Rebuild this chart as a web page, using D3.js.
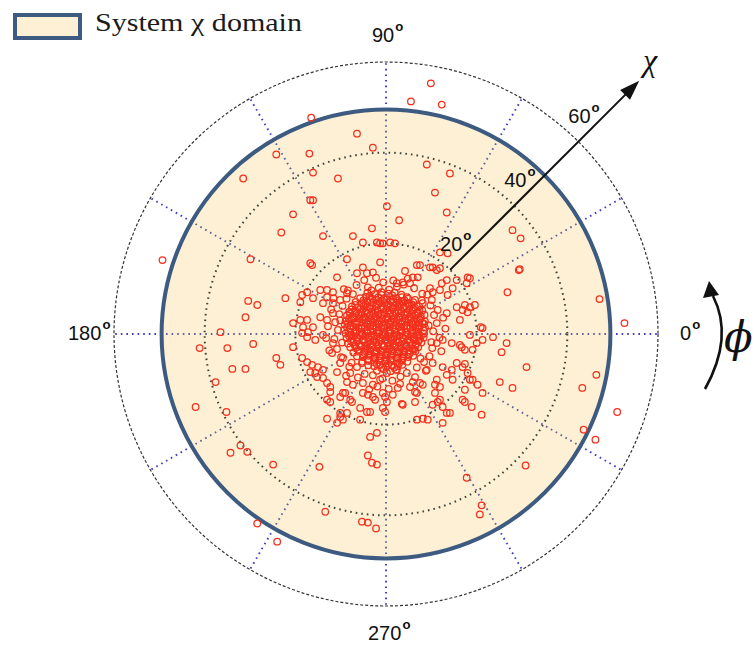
<!DOCTYPE html>
<html>
<head>
<meta charset="utf-8">
<script src="https://cdn.jsdelivr.net/npm/d3@7/dist/d3.min.js"></script>
<style>
  html, body { margin: 0; padding: 0; background: #ffffff; }
  svg { display: block; }
</style>
</head>
<body>
<svg id="chart" width="756" height="645"></svg>
<script>
// ---- data (degrees) ----
const chiTicks = [20, 40, 60];          // dotted/dashed rings
const phiSpokes = [0, 30, 60, 90, 120, 150, 180, 210, 240, 270, 300, 330];
const phiLabels = [0, 90, 180, 270];
const chiMax = 60;
const domainChi = 49.5;                 // edge of the system χ domain
const chiArrowEnd = 79;                 // length of the χ axis arrow

// scattered observations away from the core: [χ·cosφ, χ·sinφ]
const outerPoints = [
  [9.9,55.3],[5.5,51.3],[12.3,50.6],[9.0,37.4],[14.1,35.4],[10.8,31.2],[0.2,28.2],[13.4,26.8],[2.9,25.1],
  [27.9,22.9],[29.7,21.1],[13.6,17.8],[11.9,18.0],[29.5,14.3],[4.2,13.9],[6.8,15.2],[9.7,14.7],[11.9,14.5],
  [0.9,20.2],[-0.7,20.0],[18.0,12.5],
  [-16.5,47.7],[-6.4,44.2],[-2.9,41.1],[-16.9,39.8],[-24.2,39.6],[-16.1,35.6],[-10.6,34.3],[-31.5,34.3],
  [-16.7,29.5],[-16.1,29.5],[-20.5,26.4],[-23.1,22.4],[-13.9,21.6],[-7.3,21.6],[-3.1,23.3],[-5.1,20.2],
  [-2.0,20.2],[-49.3,16.3],[-29.9,16.5],[-16.7,15.6],[-16.3,15.2],[-8.6,16.5],[-10.8,12.5],[-6.4,13.4],
  [-5.1,14.7],[-4.2,13.4],[-2.9,13.6],
  [-1.3,20.0],[2.0,20.0],[-1.3,15.8],[7.5,15.2],[10.3,14.7],[13.4,11.9],[12.3,11.2],[2.4,11.2],[3.7,11.4],
  [5.3,11.2],[5.9,12.5],[7.0,12.5],[9.7,10.1],[10.3,9.2],[11.9,9.7],[13.6,8.6],[-8.6,9.0],[-10.1,7.5],
  [-11.7,6.8],[-13.0,8.1],[-14.5,9.7],[-16.1,7.9],[-17.4,9.2],[-4.0,10.3],[4.6,8.1],[6.4,7.5],[8.1,6.8],
  [10.1,7.5],[11.4,5.3],[13.4,4.6],[15.6,5.9],[16.9,5.3],[16.3,3.1],[-14.5,3.7],[-13.0,3.1],[-11.7,4.6],
  [-17.4,3.1],[-16.1,1.5],
  [29.3,14.1],[26.8,9.2],[47.1,7.7],[18.5,12.3],[17.8,11.2],[17.4,6.4],[18.5,5.9],[19.6,6.4],[18.0,4.8],
  [20.9,1.5],[21.3,1.3],[18.5,-0.2],[26.6,-2.0],[25.5,-4.0],[16.7,-2.9],[19.1,-3.5],[31.0,-7.3],[17.4,-6.6],
  [18.0,-8.6],[18.5,-10.1],[20.2,-11.2],[25.1,-10.6],[27.9,-11.9],[43.3,-11.9],[46.4,-9.0],[17.4,-12.3],
  [17.4,-15.0],[18.9,-16.1],[52.6,2.4],
  [-30.4,7.3],[-28.4,6.4],[-22.2,7.9],[-31.0,3.7],[-36.5,0.4],[-41.1,-3.1],[-35.0,-3.1],[-29.3,-2.2],
  [-24.2,-5.3],[-23.3,-6.8],[-33.9,-7.7],[-31.0,-7.7],[-37.6,-10.6],[-42.0,-16.1],[-18.5,8.6],[-18.9,7.0],
  [-20.5,2.4],[-18.9,3.1],[-18.3,1.5],[-18.5,0.2],[-17.2,0.4],[-20.5,-2.9],[-17.4,-6.2],
  [-35.2,-17.2],[-34.3,-26.2],[-32.1,-24.6],[-30.6,-26.0],[-24.9,-28.8],[-14.7,-29.3],[-13.4,-39.2],
  [-5.3,-41.4],[-4.0,-41.6],[-2.2,-42.9],[-28.4,-41.8],[-24.0,-45.8],[-13.0,-10.8],[-12.3,-11.7],
  [-8.6,-10.6],[-7.3,-11.2],[-5.1,-10.8],[-2.9,-11.2],[-2.9,-13.9],[-5.1,-13.0],[-7.5,-15.0],[-9.0,-13.0],
  [-13.0,-14.5],[-12.3,-15.0],[-10.1,-18.3],[-9.5,-18.9],[-8.6,-17.4],[-10.8,-19.6],[-13.0,-18.7],
  [-5.7,-18.9],[-4.2,-17.2],[-3.5,-22.7],[-2.0,-21.8],[-4.0,-26.8],[-3.1,-28.4],[-2.0,-28.8],
  [51.0,-17.2],[43.6,-21.1],[46.2,-23.3],[30.8,-29.0],[17.8,-31.7],[21.1,-37.8],[20.7,-39.8],[21.1,-17.8],
  [13.4,-17.4],[14.1,-17.4],[12.5,-19.6],[11.4,-15.0],[10.3,-15.6],[11.9,-14.5],[6.8,-18.9],[8.1,-18.7],
  [9.2,-18.9],[3.5,-15.4],[1.5,-13.4],[-0.2,-13.9],[-0.2,-17.2],[2.6,-11.9],[6.4,-12.8],[8.1,-11.2],
  [10.8,-11.2],[5.9,-10.6],
  [-17.4,-0.7],[-15.6,-1.3],[-13.9,-0.2],[-11.7,-2.0],[-11.9,-4.2],[-9.5,-5.3],[-10.1,-6.4],[-16.3,-6.8],
  [-15.0,-7.3],[-15.6,-8.6],[-13.9,-7.9],[-10.8,-8.4],[-7.9,-8.6],[-6.4,-7.3],[-5.3,-6.4],[-12.3,-12.8],
  [-9.5,-13.0],[-7.9,-14.5],[-10.1,-17.4],[-4.0,-13.4],[-2.4,-14.5],[-0.7,-13.0],[0.2,-15.0],[3.7,-15.6],
  [-1.3,-10.1],[0.2,-8.6],[2.4,-7.9],[4.6,-8.6],[6.4,-9.5],[7.5,-10.8],[5.3,-11.7],[9.0,-7.9],[10.3,-6.4],
  [12.5,-7.3],[14.5,-7.9],[15.6,-6.4],[16.9,-7.3],[13.4,-9.0],[14.7,-10.1],[11.2,-10.1],[11.9,-11.7],
  [10.8,-13.0],[12.5,-16.1],[6.8,-13.0],[6.4,-15.0],[16.9,-14.5],[17.4,-3.5],[16.3,-2.4],[14.5,-2.0],
  [12.5,-1.3],[11.2,-2.0],
  [-13.0,9.7],[-11.7,9.2],[-13.9,6.8],[-18.5,-5.3],[-16.7,-8.4],[-15.2,-9.5],[-13.9,-9.7],[-10.1,-13.9],
  [-5.7,-16.3],[-3.5,-17.2],[-0.7,-16.3],[19.1,-10.1],[21.3,-13.0],[20.0,-2.0],[21.3,-1.3],[23.6,-0.7],
  [14.7,10.1],[15.6,11.9],[11.2,14.1]
];

// halo of observations hugging the core: [χ·cosφ, χ·sinφ]
const haloPoints = [
  [-6.5,10.8],[-4.8,11.9],[-2.2,12.4],[1.6,11.8],[3.9,10.9],[6.2,10.1],[-8.4,9.6],[8.0,8.9],[-0.6,11.4],[4.8,12.2],
  [9.8,6.3],[10.6,4.2],[11.2,2.4],[10.4,0.6],[11.8,-0.8],[10.2,-3.1],[9.6,-4.9],[12.6,3.6],[13.1,1.2],[12.2,-3.8],
  [9.4,1.9],[10.0,-1.8],
  [8.4,-6.2],[6.8,-7.4],[3.2,-9.4],[1.4,-10.3],[-0.8,-9.8],[-2.9,-9.1],[-4.7,-8.8],[-6.2,-9.6],[-8.1,-7.2],
  [-1.9,-11.6],[0.6,-12.1],[3.1,-11.0],[-3.7,-12.2],
  [-9.9,-5.1],[-10.8,-3.3],[-11.4,-1.1],[-10.6,0.9],[-11.2,2.6],[-10.3,4.4],[-9.6,6.2],[-12.8,1.7],[-13.2,-0.9],
  [-12.5,-3.6],[-9.7,-1.9],[-10.1,3.0],[-12.1,5.4],[-11.6,7.9],[-8.7,7.8],
  [7.9,7.4],[9.1,8.7],[-7.3,8.8],[-9.3,9.9],[8.8,-8.1],[-8.8,-9.2],[7.6,-5.4],[-7.6,-6.3]
];

// dense cluster of observations near χ = 0: [χ·cosφ, χ·sinφ]
const corePoints = [
  [-1.6,10.2],[0.7,9.8],[-3.2,9.6],[2.4,10.4],
  [-4.1,9.1],[-2.5,8.8],[-1.0,9.2],[0.5,8.9],[1.9,9.1],[3.4,8.7],
  [-5.7,7.9],[-4.4,8.2],[-3.0,7.8],[-1.7,8.1],[-0.4,7.7],[0.9,8.2],[2.2,7.9],[3.5,8.1],[4.9,7.8],
  [-6.7,7.1],[-5.3,6.8],[-4.1,7.2],[-2.8,6.9],[-1.5,7.1],[-0.3,6.8],[1.0,7.2],[2.3,6.9],[3.4,7.1],[4.7,6.8],[6.0,7.0],
  [-7.5,6.1],[-6.2,5.9],[-4.9,6.2],[-3.7,5.8],[-2.3,6.1],[-1.1,5.9],[0.3,6.2],[1.5,5.8],[2.7,6.1],[3.9,5.9],[5.2,6.2],[6.4,5.8],[7.3,6.1],
  [-8.1,4.9],[-6.8,5.1],[-5.6,4.8],[-4.3,5.2],[-3.0,4.9],[-1.8,5.1],[-0.5,4.8],[0.8,5.2],[2.0,4.9],[3.3,5.1],[4.5,4.8],[5.8,5.1],[7.0,4.9],[8.0,5.2],
  [-8.6,4.1],[-7.3,3.9],[-6.1,4.2],[-4.8,3.8],[-3.6,4.1],[-2.3,3.9],[-1.1,4.2],[0.2,3.8],[1.5,4.1],[2.8,3.9],[4.0,4.2],[5.3,3.8],[6.5,4.1],[7.7,3.9],[8.5,4.2],
  [-8.9,2.9],[-7.7,3.1],[-6.4,2.8],[-5.2,3.2],[-3.9,2.9],[-2.7,3.1],[-1.4,2.8],[-0.1,3.2],[1.1,2.9],[2.4,3.1],[3.6,2.8],[4.9,3.2],[6.1,2.9],[7.4,3.1],[8.6,2.8],
  [-9.1,2.1],[-7.8,1.9],[-6.6,2.2],[-5.3,1.8],[-4.1,2.1],[-2.8,1.9],[-1.6,2.2],[-0.3,1.8],[0.9,2.1],[2.2,1.9],[3.4,2.2],[4.7,1.8],[5.9,2.1],[7.2,1.9],[8.4,2.2],
  [-9.2,0.9],[-7.9,1.1],[-6.7,0.8],[-5.4,1.2],[-4.2,0.9],[-2.9,1.1],[-1.7,0.8],[-0.4,1.2],[0.8,0.9],[2.1,1.1],[3.3,0.8],[4.6,1.2],[5.8,0.9],[7.1,1.1],[8.3,0.8],
  [-8.9,0.1],[-7.7,-0.2],[-6.5,0.2],[-5.2,-0.1],[-4.0,0.1],[-2.7,-0.2],[-1.5,0.2],[-0.2,-0.1],[1.0,0.1],[2.3,-0.2],[3.5,0.2],[4.8,-0.1],[6.0,0.1],[7.3,-0.2],[8.4,0.1],
  [-8.7,-0.9],[-7.5,-1.1],[-6.3,-0.8],[-5.0,-1.2],[-3.8,-0.9],[-2.5,-1.1],[-1.3,-0.8],[0.0,-1.2],[1.2,-0.9],[2.5,-1.1],[3.7,-0.8],[5.0,-1.2],[6.2,-0.9],[7.4,-1.1],[8.3,-0.8],
  [-8.4,-2.1],[-7.2,-1.9],[-5.9,-2.2],[-4.7,-1.8],[-3.4,-2.1],[-2.2,-1.9],[-0.9,-2.2],[0.3,-1.8],[1.6,-2.1],[2.8,-1.9],[4.1,-2.2],[5.3,-1.8],[6.6,-2.1],[7.8,-1.9],
  [-7.9,-2.9],[-6.7,-3.1],[-5.4,-2.8],[-4.2,-3.2],[-2.9,-2.9],[-1.7,-3.1],[-0.4,-2.8],[0.8,-3.2],[2.1,-2.9],[3.3,-3.1],[4.6,-2.8],[5.8,-3.2],[7.1,-2.9],
  [-7.2,-4.1],[-6.0,-3.9],[-4.7,-4.2],[-3.5,-3.8],[-2.2,-4.1],[-1.0,-3.9],[0.3,-4.2],[1.5,-3.8],[2.8,-4.1],[4.0,-3.9],[5.3,-4.2],[6.5,-3.8],
  [-6.4,-4.9],[-5.1,-5.1],[-3.9,-4.8],[-2.6,-5.2],[-1.4,-4.9],[-0.1,-5.1],[1.1,-4.8],[2.4,-5.2],[3.6,-4.9],[4.9,-5.1],[6.0,-4.8],
  [-5.2,-6.1],[-4.0,-5.9],[-2.7,-6.2],[-1.5,-5.8],[-0.2,-6.1],[1.0,-5.9],[2.3,-6.2],[3.5,-5.8],[4.7,-6.1],
  [-3.9,-6.9],[-2.6,-7.1],[-1.3,-6.8],[0.0,-7.2],[1.3,-6.9],[2.6,-7.1],[3.6,-6.8],
  [-2.0,-8.1],[-0.5,-7.8],[1.0,-8.2],[2.2,-7.9],
  [-2.2,7.5],[0.1,7.6],[2.6,7.4],
  [-4.5,6.5],[-2.0,6.6],[0.6,6.4],[3.0,6.5],[5.0,6.6],
  [-5.8,5.5],[-3.4,5.6],[-0.9,5.4],[1.5,5.5],[4.0,5.6],[6.1,5.4],
  [-6.6,4.5],[-4.1,4.6],[-1.6,4.4],[0.9,4.5],[3.3,4.6],[5.8,4.4],
  [-7.0,3.5],[-4.5,3.6],[-2.0,3.4],[0.5,3.5],[3.0,3.6],[5.5,3.4],[7.6,3.5],
  [-6.9,2.5],[-4.4,2.6],[-1.9,2.4],[0.6,2.5],[3.1,2.6],[5.6,2.4],
  [-7.2,1.5],[-4.7,1.6],[-2.2,1.4],[0.3,1.5],[2.8,1.6],[5.3,1.4],[7.4,1.5],
  [-6.8,0.5],[-4.3,0.6],[-1.8,0.4],[0.7,0.5],[3.2,0.6],[5.7,0.4],
  [-7.0,-0.5],[-4.5,-0.4],[-2.0,-0.6],[0.5,-0.5],[3.0,-0.4],[5.5,-0.6],[7.7,-0.5],
  [-6.4,-1.5],[-3.9,-1.6],[-1.4,-1.4],[1.1,-1.5],[3.6,-1.6],[6.1,-1.4],
  [-5.5,-2.5],[-3.0,-2.4],[-0.5,-2.6],[2.0,-2.5],[4.5,-2.4],[6.5,-2.6],
  [-4.6,-3.5],[-2.1,-3.6],[0.4,-3.4],[2.9,-3.5],[5.2,-3.6],
  [-3.6,-4.5],[-1.1,-4.6],[1.4,-4.4],[3.9,-4.5],
  [-2.4,-5.5],[0.1,-5.6],[2.6,-5.4],
  [-1.0,8.6],[1.4,8.5],[-3.6,8.4],
  [-5.0,7.4],[-3.4,7.5],[-0.9,7.4],[1.6,7.6],[4.1,7.4],
  [-6.8,6.4],[-4.2,6.0],[-1.7,6.5],[0.9,6.1],[3.3,6.4],[5.7,6.5],
  [-7.6,5.4],[-5.0,5.5],[-2.4,5.3],[0.1,5.5],[2.6,5.3],[5.1,5.5],[7.4,5.3],
  [-7.9,4.5],[-5.4,4.3],[-2.9,4.5],[-0.4,4.3],[2.1,4.5],[4.6,4.3],[7.1,4.5],
  [-8.2,3.4],[-5.8,3.5],[-3.3,3.5],[-0.8,3.4],[1.8,3.5],[4.3,3.5],[6.8,3.4],
  [-8.4,2.4],[-5.9,2.5],[-3.4,2.6],[-0.9,2.4],[1.6,2.5],[4.1,2.6],[6.6,2.4],[8.0,2.5],
  [-8.6,1.5],[-6.0,1.4],[-3.5,1.6],[-1.0,1.4],[1.6,1.5],[4.0,1.6],[6.5,1.4],[8.6,1.4],
  [-8.3,0.5],[-5.8,0.4],[-3.3,0.6],[-0.8,0.4],[1.9,0.5],[4.3,0.4],[6.7,0.6],
  [-8.1,-0.5],[-5.7,-0.4],[-3.2,-0.6],[-0.7,-0.4],[1.8,-0.6],[4.3,-0.5],[6.8,-0.4],
  [-7.7,-1.6],[-5.2,-1.4],[-2.7,-1.6],[-0.2,-1.4],[2.3,-1.6],[4.8,-1.4],[7.2,-1.5],
  [-6.9,-2.5],[-4.4,-2.6],[-1.9,-2.4],[0.8,-2.5],[3.2,-2.6],[5.7,-2.4],
  [-6.2,-3.5],[-3.7,-3.4],[-1.2,-3.6],[1.3,-3.4],[3.8,-3.6],[6.2,-3.4],
  [-5.0,-4.5],[-2.5,-4.4],[0.0,-4.6],[2.5,-4.4],[5.0,-4.5],
  [-3.8,-5.6],[-1.3,-5.4],[1.2,-5.6],[3.7,-5.4],
  [-2.0,-6.6],[0.5,-6.5],[2.9,-6.4],
  [-1.0,-7.5],[1.8,-7.4]
];

// ---- layout ----
const cx = 386, cy = 334;
const r = d3.scaleLinear().domain([0, chiMax]).range([0, 272]);
const px = d3.scaleLinear().domain([-chiMax, chiMax]).range([cx - r(chiMax), cx + r(chiMax)]);
const py = d3.scaleLinear().domain([-chiMax, chiMax]).range([cy + r(chiMax), cy - r(chiMax)]);
const toRad = d => d * Math.PI / 180;

const svg = d3.select("#chart");
const plot = svg.append("g");

// system χ domain fill
plot.append("circle")
  .attr("cx", cx).attr("cy", cy).attr("r", r(domainChi))
  .attr("fill", "#fdf0d4");

// angular spokes (grey-blue inside the domain, blue outside)
phiSpokes.forEach(phi => {
  const c = Math.cos(toRad(phi)), s = Math.sin(toRad(phi));
  plot.append("line")
    .attr("x1", cx).attr("y1", cy)
    .attr("x2", cx + r(domainChi) * c).attr("y2", cy - r(domainChi) * s)
    .attr("stroke", "#606096").attr("stroke-width", 1.9)
    .attr("stroke-dasharray", "1.6,4");
  plot.append("line")
    .attr("x1", cx + r(domainChi) * c).attr("y1", cy - r(domainChi) * s)
    .attr("x2", cx + r(chiMax) * c).attr("y2", cy - r(chiMax) * s)
    .attr("stroke", "#3c3ccc").attr("stroke-width", 1.9)
    .attr("stroke-dasharray", "1.6,4");
});

// χ rings
chiTicks.forEach(t => {
  const outer = t === chiMax;
  plot.append("circle")
    .attr("cx", cx).attr("cy", cy).attr("r", r(t))
    .attr("fill", "none")
    .attr("stroke", outer ? "#333" : "#3f443a")
    .attr("stroke-width", outer ? 1.2 : 2)
    .attr("stroke-dasharray", outer ? "3,2" : "1.6,4");
});

// domain boundary
plot.append("circle")
  .attr("cx", cx).attr("cy", cy).attr("r", r(domainChi))
  .attr("fill", "none").attr("stroke", "#3d5a80").attr("stroke-width", 4);

// observations
plot.append("g").selectAll("circle")
  .data(outerPoints.concat(haloPoints, corePoints))
  .join("circle")
  .attr("cx", d => px(d[0]))
  .attr("cy", d => py(d[1]))
  .attr("r", 3.3)
  .attr("fill", "none")
  .attr("stroke", "#f3301d")
  .attr("stroke-width", 1.25);

// angle labels with degree marks
const labelFont = "'Liberation Sans', Arial, sans-serif";
function degLabel(x, y, str, size) {
  const t = svg.append("text")
    .attr("x", x).attr("y", y)
    .attr("font-family", labelFont).attr("font-size", size).attr("fill", "#111");
  t.append("tspan").text(str);
  t.append("tspan").attr("font-size", size * 0.66).attr("font-weight", "bold")
    .attr("dx", 1).attr("dy", -size * 0.55).text("o");
}
const phiLabelPos = {0: [680, 340], 90: [372, 42], 180: [68, 340], 270: [368, 640]};
phiLabels.forEach(p => degLabel(phiLabelPos[p][0], phiLabelPos[p][1], String(p), 20));

// χ axis arrow along 45°
const a45 = toRad(45);
const ax = d => cx + r(d) * Math.cos(a45), ay = d => cy - r(d) * Math.sin(a45);
svg.append("line")
  .attr("x1", ax(chiTicks[0])).attr("y1", ay(chiTicks[0]))
  .attr("x2", ax(chiArrowEnd - 4)).attr("y2", ay(chiArrowEnd - 4))
  .attr("stroke", "#111").attr("stroke-width", 2);
{
  const tipX = ax(chiArrowEnd), tipY = ay(chiArrowEnd);
  const back = 20, half = 7;
  const bx = tipX - back * Math.cos(a45), by = tipY + back * Math.sin(a45);
  const nx = Math.sin(a45), ny = Math.cos(a45);
  svg.append("polygon")
    .attr("points", [[tipX, tipY], [bx + half * nx, by + half * ny], [bx - half * nx, by - half * ny]].map(p => p.join(",")).join(" "))
    .attr("fill", "#111");
}
// χ tick labels along the arrow
chiTicks.forEach(t => degLabel(ax(t) - 10, ay(t) - 19, String(t), 20));

svg.append("text")
  .attr("x", 643).attr("y", 71)
  .attr("font-family", "'Liberation Serif', 'Times New Roman', serif")
  .attr("font-style", "italic").attr("font-size", 32).attr("fill", "#111")
  .text("χ");

// φ direction arrow
svg.append("path")
  .attr("d", "M705,389 Q734,337 713,296")
  .attr("fill", "none").attr("stroke", "#111").attr("stroke-width", 2.6);
svg.append("polygon")
  .attr("points", "709,281 703,298 719,295")
  .attr("fill", "#111");
svg.append("text")
  .attr("x", 724).attr("y", 352)
  .attr("font-family", "'DejaVu Serif', 'Liberation Serif', serif")
  .attr("font-style", "italic").attr("font-size", 42).attr("fill", "#111")
  .text("ϕ");

// legend
svg.append("rect")
  .attr("x", 15).attr("y", 15).attr("width", 65).attr("height", 23)
  .attr("fill", "#fdf0d4").attr("stroke", "#3d5a80").attr("stroke-width", 4);
svg.append("text")
  .attr("x", 95).attr("y", 31)
  .attr("font-family", "'Liberation Serif', 'Times New Roman', serif")
  .attr("font-size", 26).attr("fill", "#1a1a1a")
  .attr("textLength", 207).attr("lengthAdjust", "spacingAndGlyphs")
  .text("System χ domain");
</script>
</body>
</html>
